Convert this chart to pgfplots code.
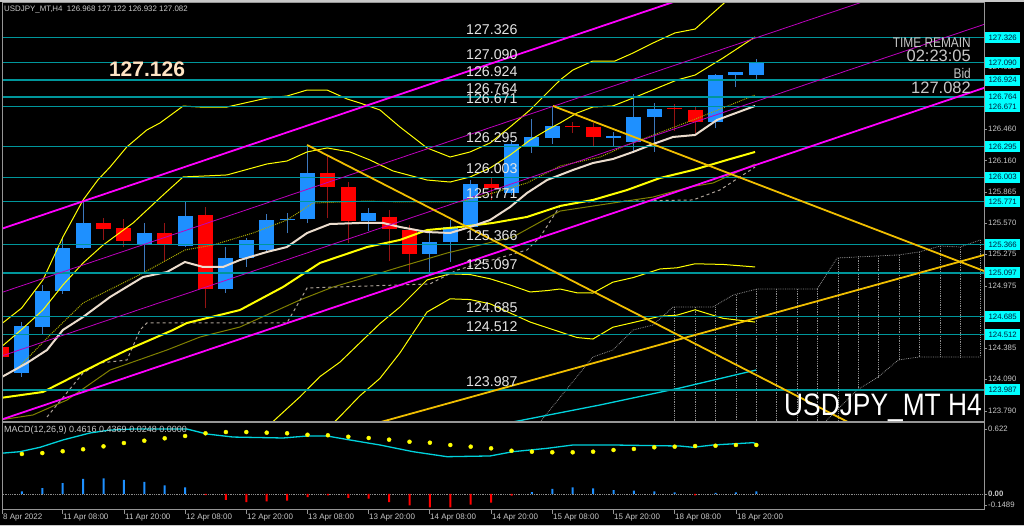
\documentclass[border=0pt]{standalone}
\usepackage{pgfplots}
\pgfplotsset{compat=1.18}
\usepackage{fontspec}
\setmainfont{Liberation Sans}
\newfontfamily\narrowf[FakeStretch=0.85]{Liberation Sans}
\definecolor{lvl}{RGB}{0,150,155}
\definecolor{lvlbox}{RGB}{0,255,255}
\definecolor{boxtxt}{RGB}{0,30,60}
\definecolor{bullcol}{RGB}{30,144,255}
\definecolor{bullwick}{RGB}{60,120,190}
\definecolor{bearcol}{RGB}{255,0,0}
\definecolor{bearwick}{RGB}{150,20,20}
\definecolor{band}{RGB}{255,255,0}
\definecolor{mag}{RGB}{255,0,255}
\definecolor{magthin}{RGB}{190,0,190}
\definecolor{gold}{RGB}{240,190,0}
\definecolor{beige}{RGB}{235,220,205}
\definecolor{olv}{RGB}{128,128,0}
\definecolor{olvdot}{RGB}{170,170,0}
\definecolor{kij}{RGB}{170,160,150}
\definecolor{cloudc}{RGB}{140,140,140}
\definecolor{macdc}{RGB}{0,210,220}
\definecolor{txt}{RGB}{200,200,200}
\definecolor{lbl}{RGB}{228,228,228}
\definecolor{frame}{RGB}{150,150,150}
\definecolor{winc}{RGB}{200,200,200}
\definecolor{bigc}{RGB}{255,228,196}
\newcommand\bull[5]{%
 \addplot[draw=bullwick, line width=1pt] coordinates {(#1,#4) (#1,#3)};
 \addplot[draw=bullcol, line width=15pt] coordinates {(#1,#2) (#1,#5)};}
\newcommand\bear[5]{%
 \addplot[draw=bearwick, line width=1pt] coordinates {(#1,#4) (#1,#3)};
 \addplot[draw=bearcol, line width=15pt] coordinates {(#1,#2) (#1,#5)};}
\newcommand\lvline[1]{\addplot[lvl, line width=1.3pt] coordinates {(-1,#1) (50,#1)};}
\newcommand\lvtxt[2]{\node[anchor=base west,inner sep=0pt,text=lbl,font=\fontsize{14.2}{16}\selectfont] at (466,#1) {#2};}
\newcommand\rbox[2]{\node[fill=lvlbox,inner sep=0pt,minimum width=35pt,minimum height=11pt,anchor=west,text=boxtxt,font=\fontsize{7.8}{9}\selectfont] at (985,#1) {#2};}
\newcommand\rtick[2]{\draw[frame] (984,#1) -- (987,#1); \node[anchor=west,inner sep=0pt,text=txt,font=\fontsize{7.8}{9}\selectfont] at (988,#1) {#2};}
\newcommand\dtick[2]{\draw[frame] (#1,16) -- (#1,12); \node[anchor=west,inner sep=0pt,text=txt,font=\fontsize{8}{9}\selectfont] at (#1+1,8.5) {#2};}
\begin{document}
\begin{tikzpicture}[x=1pt,y=1pt]
\fill[black] (0,0) rectangle (1024,526);
\useasboundingbox (0,0) rectangle (1024,526);
\begin{axis}[at={(2pt,104pt)},anchor=south west,scale only axis,width=982pt,height=419pt,
 xmin=0.0245,xmax=48.162,ymin=123.6836,ymax=127.6549,hide axis]
% candles
\bear{0}{124.394}{124.461}{124.224}{124.300}
\bull{1}{124.148}{124.634}{124.113}{124.596}
\bull{2}{124.587}{124.982}{124.518}{124.928}
\bull{3}{124.922}{125.440}{124.897}{125.333}
\bull{4}{125.330}{125.772}{125.323}{125.567}
\bear{5}{125.567}{125.614}{125.409}{125.510}
\bear{6}{125.519}{125.605}{125.345}{125.399}
\bull{7}{125.368}{125.567}{125.093}{125.478}
\bear{8}{125.478}{125.567}{125.203}{125.364}
\bull{9}{125.352}{125.766}{125.340}{125.636}
\bear{10}{125.643}{125.719}{124.761}{124.942}
\bull{11}{124.942}{125.345}{124.909}{125.235}
\bull{12}{125.238}{125.428}{125.156}{125.406}
\bull{13}{125.314}{125.652}{125.300}{125.598}
\bull{14}{125.600}{125.662}{125.472}{125.612}
\bull{15}{125.605}{126.309}{125.567}{126.047}
\bear{16}{126.047}{126.214}{125.614}{125.908}
\bear{17}{125.908}{125.961}{125.377}{125.592}
\bull{18}{125.592}{125.715}{125.494}{125.662}
\bear{19}{125.630}{125.693}{125.213}{125.510}
\bear{20}{125.503}{125.551}{125.108}{125.276}
\bull{21}{125.276}{125.472}{125.093}{125.393}
\bull{22}{125.393}{125.598}{125.203}{125.535}
\bull{23}{125.535}{125.977}{125.503}{125.939}
\bear{24}{125.939}{125.996}{125.788}{125.899}
\bull{25}{125.857}{126.357}{125.835}{126.316}
\bull{26}{126.300}{126.556}{126.236}{126.382}
\bull{27}{126.375}{126.679}{126.319}{126.492}
\bear{28}{126.492}{126.530}{126.426}{126.480}
\bear{29}{126.480}{126.520}{126.302}{126.382}
\bull{30}{126.380}{126.435}{126.302}{126.392}
\bull{31}{126.340}{126.790}{126.243}{126.572}
\bull{32}{126.577}{126.704}{126.246}{126.650}
\bear{33}{126.660}{126.695}{126.442}{126.648}
\bear{34}{126.641}{126.666}{126.426}{126.524}
\bull{35}{126.524}{126.982}{126.467}{126.970}
\bull{36}{126.970}{127.004}{126.856}{127.004}
\bull{37}{126.968}{127.122}{126.932}{127.082}
% ichimoku cloud (future)
\addplot[cloudc, densely dotted, line width=0.8pt, unbounded coords=jump] coordinates {
(33,124.774) (33,123.6) (33,nan) (34,124.774) (34,123.6) (34,nan) (35,124.774) (35,123.6) (35,nan)
(36,124.887) (36,123.6) (36,nan) (37,124.944) (37,123.6) (37,nan) (38,124.944) (38,123.6) (38,nan)
(39,124.944) (39,123.6) (39,nan) (40,124.944) (40,123.6) (40,nan) (41,125.238) (41,123.6) (41,nan)
(42,125.257) (42,123.996) (42,nan) (43,125.257) (43,124.110) (43,nan) (44,125.267) (44,124.271) (44,nan)
(45,125.295) (45,124.300) (45,nan) (46,125.352) (46,124.300) (46,nan) (47,125.342) (47,124.300) (47,nan)
(48,125.409) (48,124.300)};
\addplot[cloudc, densely dotted, line width=0.8pt] coordinates {(26.4,123.684) (28.99,124.300) (29.97,124.366) (30.96,124.556) (31.94,124.603) (32.92,124.774) (34.88,124.774) (35.86,124.887) (37.03,124.944) (39.98,124.944) (40.96,125.238) (43.96,125.267) (44.98,125.295) (46.01,125.352) (46.99,125.342) (47.98,125.409)};
\addplot[cloudc, densely dotted, line width=0.8pt] coordinates {(40.37,123.684) (41.94,123.987) (42.97,124.110) (43.96,124.271) (44.98,124.300) (47.98,124.300)};
% bollinger bands
\addplot[band, line width=1pt] coordinates {(-0.07,124.603) (0.99,124.764) (2.03,125.030) (3.01,125.437) (4.00,125.788) (4.72,125.977) (5.32,126.100) (6.14,126.290) (7.12,126.451) (7.77,126.518) (8.90,126.678) (9.73,126.669) (11.05,126.669) (13.01,126.754) (13.99,126.773) (14.98,126.830) (15.96,126.830) (16.94,126.745) (17.57,126.707) (18.55,126.641) (19.53,126.480) (20.86,126.281) (21.99,126.195) (22.97,126.243) (23.95,126.328) (24.93,126.480) (25.91,126.641) (26.74,126.802) (27.38,126.925) (28.01,127.020) (28.99,127.105) (30.07,127.105) (30.96,127.181) (31.94,127.276) (33.01,127.371) (34.00,127.408) (35.37,127.645) (36.99,127.920)};
\addplot[band, line width=1pt] coordinates {(-0.07,124.385) (0.96,124.556) (2.03,124.745) (3.01,124.982) (4.00,125.191) (4.98,125.361) (6.45,125.570) (7.92,125.835) (8.90,126.006) (11.05,126.025) (13.01,126.129) (13.99,126.157) (14.98,126.243) (15.96,126.281) (17.08,126.243) (18.06,126.167) (19.19,126.063) (20.86,125.977) (21.99,125.958) (22.97,126.006) (23.95,126.091) (24.93,126.214) (25.91,126.356) (26.74,126.451) (27.38,126.518) (28.21,126.612) (28.99,126.669) (29.97,126.679) (30.96,126.754) (32.28,126.859) (33.11,126.925) (34.00,126.972) (35.37,127.134) (36.94,127.333)};
\addplot[band, line width=1pt] coordinates {(12.67,123.582) (13.31,123.688) (13.80,123.775) (14.63,123.922) (15.61,124.114) (16.59,124.251) (17.57,124.434) (18.55,124.616) (19.53,124.773) (20.86,125.030) (21.99,125.088) (22.97,125.081) (23.95,125.041) (24.93,124.982) (25.91,124.916) (26.74,124.929) (27.38,124.944) (28.21,124.908) (28.99,124.906) (29.97,125.009) (30.96,125.052) (32.28,125.134) (33.11,125.145) (34.00,125.183) (35.37,125.177) (36.94,125.153)};
\addplot[band, line width=1pt] coordinates {(15.61,123.551) (16.59,123.736) (17.57,123.932) (18.55,124.097) (19.53,124.338) (20.86,124.726) (21.99,124.851) (22.97,124.844) (23.95,124.804) (24.93,124.717) (25.91,124.631) (26.74,124.578) (27.38,124.537) (28.21,124.484) (28.99,124.470) (29.97,124.582) (30.96,124.626) (32.28,124.686) (33.11,124.696) (34.00,124.747) (35.37,124.666) (36.94,124.631)};
% olive lines
\addplot[olv, line width=1pt] coordinates {(-0.07,123.703) (1.54,123.750) (3.21,123.892) (5.32,124.176) (8.11,124.366) (9.73,124.489) (11.69,124.584) (14.63,124.840) (16.25,124.963) (17.92,125.058) (19.53,125.153) (21.84,125.285) (25.07,125.437) (27.38,125.683) (29.97,125.759) (31.94,125.816) (33.75,125.911) (34.88,125.949) (36.94,126.129)};
\addplot[olvdot, densely dotted, line width=1pt] coordinates {(0.91,124.214) (2.38,124.508) (4.00,124.812) (6.94,125.096) (9.00,125.314) (10.37,125.361) (12.33,125.475) (13.99,125.598) (15.27,125.759) (17.92,125.778) (19.53,125.769) (22.48,125.769) (24.09,125.854) (25.76,125.949) (27.38,126.110) (29.34,126.195) (30.66,126.309) (33.90,126.546) (36.94,126.783)};
\addplot[kij, dashed, line width=1pt] coordinates {(2.23,123.731) (4.00,124.148) (4.83,124.243) (6.15,124.271) (6.79,124.556) (7.13,124.622) (13.99,124.622) (14.98,124.954) (21.00,124.992) (22.33,125.124) (25.76,125.314) (26.40,125.437) (27.38,125.731) (28.36,125.769) (33.90,125.788) (35.22,125.883) (36.94,126.100)};
% middle band and MA
\addplot[band, line width=2pt] coordinates {(-0.07,123.911) (2.03,123.968) (4.83,124.243) (6.15,124.366) (8.41,124.556) (9.09,124.622) (11.69,124.745) (13.80,124.963) (15.61,125.191) (17.92,125.342) (19.53,125.409) (20.86,125.503) (22.48,125.532) (24.09,125.570) (25.76,125.627) (27.38,125.731) (28.99,125.788) (30.66,125.882) (32.28,125.996) (33.90,126.072) (35.56,126.167) (36.94,126.243)};
\addplot[beige, line width=2pt] coordinates {(-0.07,124.101) (1.25,124.243) (2.23,124.366) (3.01,124.556) (4.00,124.679) (5.32,124.868) (6.94,125.058) (8.11,125.105) (8.99,125.200) (9.88,125.153) (10.86,125.153) (11.69,125.219) (13.01,125.295) (13.99,125.342) (14.98,125.475) (16.10,125.560) (17.57,125.570) (18.70,125.570) (19.53,125.532) (20.86,125.484) (21.99,125.475) (22.97,125.532) (23.95,125.598) (24.93,125.721) (25.76,125.854) (26.74,125.977) (27.38,126.025) (28.01,126.072) (28.99,126.138) (29.97,126.176) (30.96,126.243) (31.94,126.318) (32.92,126.385) (34.00,126.404) (35.07,126.546) (36.94,126.679)};
\addplot[macdc, line width=1.3pt] coordinates {(24.5,123.66) (25.07,123.684) (29.34,123.845) (33.26,124.006) (36.99,124.176)};
% horizontal levels
\lvline{127.326}\lvline{127.090}\lvline{126.924}\lvline{126.764}\lvline{126.671}
\lvline{126.295}\lvline{126.003}\lvline{125.771}\lvline{125.366}\lvline{125.097}
\lvline{124.685}\lvline{124.512}\lvline{123.987}
% channel
\addplot[mag, line width=1.8pt] coordinates {(-0.1,125.508) (48.3,128.667)};
\addplot[magthin, line width=0.8pt] coordinates {(-0.1,124.904) (48.3,128.063)};
\addplot[magthin, line width=0.8pt] coordinates {(-0.1,124.302) (48.3,127.461)};
\addplot[mag, line width=1.8pt] coordinates {(-0.1,123.700) (48.3,126.859)};
% trend lines
\addplot[gold, line width=1.8pt] coordinates {(14.98,126.309) (42.0,123.633)};
\addplot[gold, line width=1.8pt] coordinates {(27.03,126.679) (48.3,125.105)};
\addplot[gold, line width=1.8pt] coordinates {(18.4,123.673) (48.3,125.274)};
\end{axis}
% MACD panel
\begin{axis}[at={(2pt,16pt)},anchor=south west,scale only axis,width=982pt,height=87pt,
 xmin=0.0245,xmax=48.162,ymin=-0.1531,ymax=0.6795,hide axis]
\addplot[cloudc, densely dotted, line width=0.8pt] coordinates {(-1,0) (50,0)};
\addplot[ybar, bar width=2pt, bar shift=0pt, fill=bullcol, draw=none] coordinates {(1,0.026) (2,0.057) (3,0.105) (4,0.144) (5,0.150) (6,0.134) (7,0.115) (8,0.083) (9,0.064) (26,0.019) (27,0.048) (28,0.064) (29,0.054) (30,0.038) (31,0.032) (32,0.026) (33,0.016) (35,0.010) (36,0.016) (37,0.025)};
\addplot[ybar, bar width=2pt, bar shift=0pt, fill=bearcol, draw=none] coordinates {(10,-0.010) (11,-0.057) (12,-0.077) (13,-0.070) (14,-0.064) (15,-0.029) (16,-0.013) (17,-0.038) (18,-0.045) (19,-0.077) (20,-0.108) (21,-0.128) (22,-0.128) (23,-0.102) (24,-0.083) (25,-0.016) (34,-0.013)};
\addplot[macdc, line width=1.3pt] coordinates {(-0.07,0.389) (0.91,0.405) (1.89,0.447) (3.01,0.517) (4.34,0.584) (5.32,0.612) (6.45,0.622) (9.09,0.622) (10.07,0.574) (11.35,0.545) (13.80,0.536) (14.98,0.555) (15.96,0.555) (17.08,0.517) (18.55,0.469) (20.17,0.405) (21.84,0.357) (23.95,0.364) (25.07,0.405) (26.74,0.437) (28.01,0.469) (29.97,0.469) (33.26,0.459) (33.90,0.447) (34.88,0.469) (36.84,0.491) (37.03,0.479)};
\addplot[only marks, mark=*, mark size=2pt, band] coordinates {(0,0.389) (1,0.383) (2,0.392) (3,0.409) (4,0.428) (5,0.456) (6,0.488) (7,0.510) (8,0.533) (9,0.555) (10,0.581) (11,0.593) (12,0.593) (13,0.587) (14,0.581) (15,0.567) (16,0.562) (17,0.548) (18,0.536) (19,0.520) (20,0.500) (21,0.491) (22,0.469) (23,0.453) (24,0.437) (25,0.414) (26,0.405) (27,0.399) (28,0.399) (29,0.405) (30,0.421) (31,0.431) (32,0.447) (33,0.453) (34,0.459) (35,0.462) (36,0.469) (37,0.469)};
\end{axis}
% frames
\fill[winc] (0,523.5) rectangle (1024,526);
\draw[frame, line width=1pt] (2,104) rectangle (984,523);
\draw[frame, line width=1pt] (2,16) rectangle (984,103);
\fill[frame] (2,102.5) rectangle (984,104.5);
\draw[winc, line width=1pt] (0,0.5) -- (1024,0.5);
% level texts
\lvtxt{491.8}{127.326}\lvtxt{466.9}{127.090}\lvtxt{449.4}{126.924}\lvtxt{432.5}{126.764}
\lvtxt{422.7}{126.671}\lvtxt{383.0}{126.295}\lvtxt{352.2}{126.003}\lvtxt{327.7}{125.771}
\lvtxt{285.0}{125.366}\lvtxt{256.6}{125.097}\lvtxt{213.1}{124.685}\lvtxt{194.9}{124.512}
\lvtxt{139.5}{123.987}
% right scale
\rtick{490.3}{127.345}\rtick{459.2}{127.050}\rtick{428.1}{126.755}\rtick{396.9}{126.460}
\rtick{365.3}{126.160}\rtick{334.2}{125.865}\rtick{303.0}{125.570}\rtick{271.9}{125.275}
\rtick{240.2}{124.975}\rtick{209.1}{124.680}\rtick{178.0}{124.385}\rtick{146.9}{124.090}
\rtick{115.2}{123.790}
\rbox{488.3}{127.326}\rbox{463.4}{127.090}\rbox{445.9}{126.924}\rbox{429.0}{126.764}
\rbox{419.2}{126.671}\rbox{379.5}{126.295}\rbox{348.7}{126.003}\rbox{324.2}{125.771}
\rbox{281.5}{125.366}\rbox{253.1}{125.097}\rbox{209.6}{124.685}\rbox{191.4}{124.512}
\rbox{136.0}{123.987}
\rtick{97}{0.622}\rtick{32}{\textbf{0.00}}\rtick{21}{-0.1489}
% dates
\dtick{2}{8 Apr 2022}\dtick{62}{11 Apr 08:00}\dtick{124}{11 Apr 20:00}\dtick{185}{12 Apr 08:00}
\dtick{246}{12 Apr 20:00}\dtick{307}{13 Apr 08:00}\dtick{368}{13 Apr 20:00}\dtick{429}{14 Apr 08:00}
\dtick{491}{14 Apr 20:00}\dtick{552}{15 Apr 08:00}\dtick{613}{15 Apr 20:00}\dtick{674}{18 Apr 08:00}
\dtick{736}{18 Apr 20:00}
% texts
\node[anchor=west,inner sep=0pt,text=txt,font=\fontsize{7.9}{9}\selectfont] at (4,516) {USDJPY\_MT,H4\ \ 126.968 127.122 126.932 127.082};
\node[anchor=west,inner sep=0pt,text=txt,font=\fontsize{9}{10}\selectfont] at (4,96) {MACD(12,26,9) 0.4616 0.4369 0.0248 0.0000};
\node[inner sep=0pt,text=bigc,font=\bfseries\fontsize{21}{24}\selectfont] at (147,456.7) {127.126};
\node[anchor=east,inner sep=0pt,text=txt,font=\narrowf\fontsize{14}{16}\selectfont] at (971,483.3) {TIME REMAIN};
\node[anchor=east,inner sep=0pt,text=txt,font=\fontsize{16.5}{18}\selectfont] at (971,470) {02:23:05};
\node[anchor=east,inner sep=0pt,text=txt,font=\narrowf\fontsize{14}{16}\selectfont] at (971,452.7) {Bid};
\node[anchor=east,inner sep=0pt,text=txt,font=\fontsize{16.5}{18}\selectfont] at (971,437.7) {127.082};
\node[anchor=east,inner sep=0pt,text=white,font=\narrowf\fontsize{31}{34}\selectfont] at (982,118) {USDJPY\_MT H4};
\end{tikzpicture}
\end{document}
